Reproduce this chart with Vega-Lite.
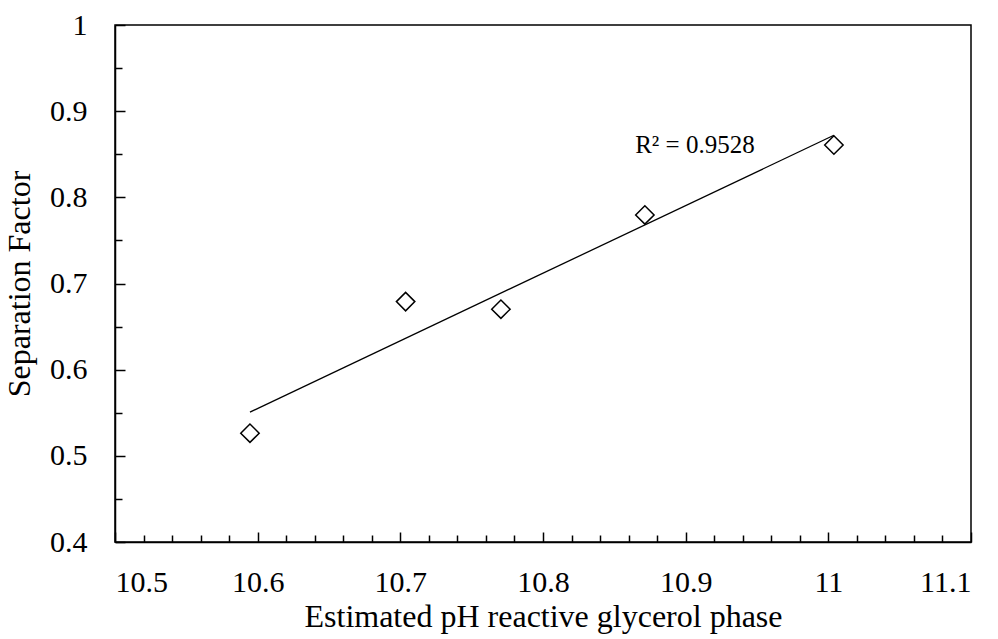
{
  "$schema": "https://vega.github.io/schema/vega-lite/v6.json",
  "width": 856,
  "height": 517,
  "autosize": {"type": "none"},
  "padding": {"left": 115, "top": 25, "right": 27, "bottom": 97},
  "background": "white",
  "config": {
    "font": "Liberation Serif",
    "view": {"stroke": "black", "strokeWidth": 1.5},
    "axis": {
      "grid": false,
      "domainColor": "black",
      "domainWidth": 1.5,
      "tickColor": "black",
      "tickWidth": 1.5,
      "labelColor": "black",
      "labelFont": "Liberation Serif",
      "labelFontSize": 30,
      "titleColor": "black",
      "titleFont": "Liberation Serif",
      "titleFontSize": 32,
      "titleFontWeight": "normal"
    }
  },
  "data": {
    "values": [
      {"pH": 10.5946, "sf": 0.5263},
      {"pH": 10.7037, "sf": 0.679},
      {"pH": 10.7705, "sf": 0.6702},
      {"pH": 10.8714, "sf": 0.7796},
      {"pH": 11.0039, "sf": 0.8608}
    ]
  },
  "layer": [
    {
      "mark": {"type": "point", "shape": "diamond", "filled": false, "stroke": "black", "strokeWidth": 1.5, "size": 340, "opacity": 1},
      "encoding": {
        "x": {
          "field": "pH", "type": "quantitative",
          "scale": {"domain": [10.5, 11.1], "nice": false, "zero": false},
          "axis": {
            "orient": "bottom",
            "title": "Estimated pH reactive glycerol phase",
            "values": [10.5, 10.6, 10.7, 10.8, 10.9, 11, 11.1],
            "format": "~g",
            "tickSize": -10,
            "labelPadding": 35,
            "titlePadding": 4
          }
        },
        "y": {
          "field": "sf", "type": "quantitative",
          "scale": {"domain": [0.4, 1], "nice": false, "zero": false},
          "axis": {
            "orient": "left",
            "title": "Separation Factor",
            "values": [0.4, 0.5, 0.6, 0.7, 0.8, 0.9, 1],
            "format": "~g",
            "tickSize": -10,
            "labelPadding": 38,
            "titlePadding": 13
          }
        }
      }
    },
    {
      "transform": [{"regression": "sf", "on": "pH"}],
      "mark": {"type": "line", "color": "black", "strokeWidth": 1.3},
      "encoding": {
        "x": {
          "field": "pH", "type": "quantitative",
          "axis": {
            "orient": "bottom",
            "title": null,
            "labels": false,
            "domain": false,
            "values": [10.52, 10.54, 10.56, 10.58, 10.62, 10.64, 10.66, 10.68, 10.72, 10.74, 10.76, 10.78, 10.82, 10.84, 10.86, 10.88, 10.92, 10.94, 10.96, 10.98, 11.02, 11.04, 11.06, 11.08],
            "tickSize": -7
          }
        },
        "y": {
          "field": "sf", "type": "quantitative",
          "axis": {
            "orient": "left",
            "title": null,
            "labels": false,
            "domain": false,
            "values": [0.45, 0.55, 0.65, 0.75, 0.85, 0.95],
            "tickSize": -7
          }
        }
      }
    },
    {
      "data": {"values": [{"label": "R² = 0.9528"}]},
      "mark": {"type": "text", "font": "Liberation Serif", "fontSize": 25, "fontWeight": "normal", "color": "black", "align": "center", "baseline": "middle"},
      "encoding": {
        "text": {"field": "label", "type": "nominal"},
        "x": {"datum": 10.9065, "type": "quantitative", "axis": null},
        "y": {"datum": 0.8608, "type": "quantitative", "axis": null}
      }
    }
  ],
  "resolve": {"axis": {"x": "independent", "y": "independent"}}
}
